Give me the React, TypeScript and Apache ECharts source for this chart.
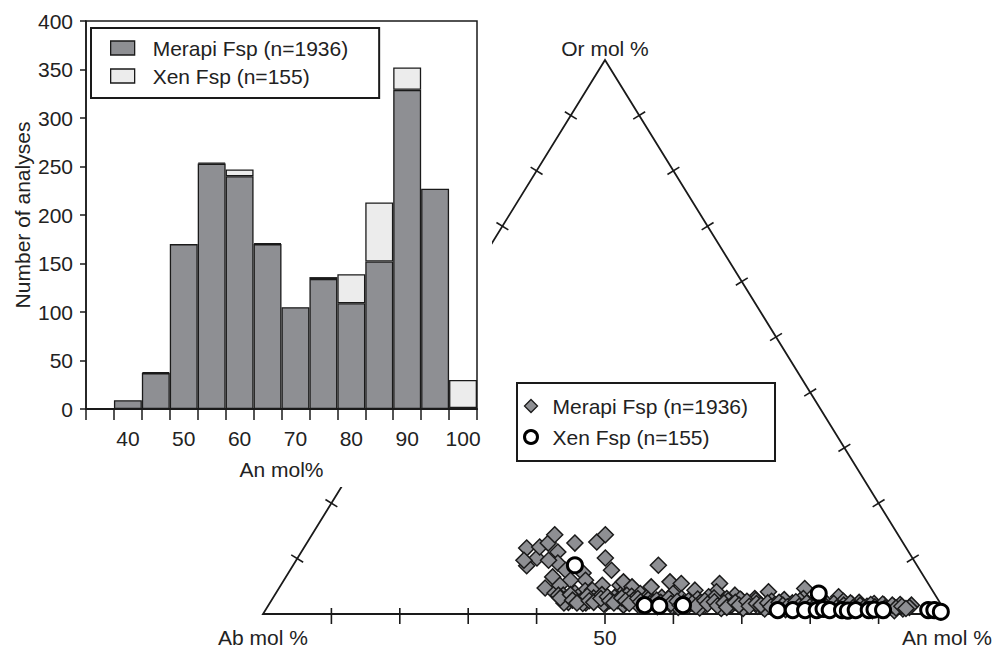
import React, { useEffect, useRef } from 'react';
import * as echarts from 'echarts';

const FONT = "'Liberation Sans', Arial, sans-serif";
const MERAPI = 'Merapi Fsp (n=1936)';
const XEN = 'Xen Fsp (n=155)';

// Histogram (5 mol% bins, An mol%)
const binCategories = ['35', '40', '45', '50', '55', '60', '65', '70', '75', '80', '85', '90', '95', '100'];
const merapiCounts = ['-', 9, 37, 170, 253, 240, 170, 105, 134, 109, 152, 329, 227, 1];
const xenCounts = ['-', '-', 1, '-', 1, 7, 1, '-', 2, 30, 61, 23, '-', 29];
const yTickMax = 400;
const yTickStep = 50;

// Ternary plot: [An mol %, Or mol %] (Ab = 100 - An - Or)
const ternaryTicks = [10, 20, 30, 40, 50, 60, 70, 80, 90];
const baseTickLabels = [50];
const vertexLabels = ['Ab mol %', 'An mol %', 'Or mol %'];

const merapiTernary = [
  [32.6, 11.9], [34.2, 8.7], [35.0, 10.1], [34.4, 12.1], [35.3, 12.8], [35.5, 14.3], [37.5, 11.2], [38.5, 9.2],
  [39.2, 12.8], [42.3, 13.0], [42.9, 14.3], [45.0, 10.1], [47.0, 7.9], [39.0, 6.7], [38.9, 4.7], [43.1, 7.4],
  [44.1, 6.1], [47.0, 5.2], [40.3, 7.9], [41.9, 6.1], [43.7, 3.8], [45.0, 4.2], [40.8, 3.8], [42.4, 3.1],
  [46.0, 4.3], [40.8, 5.2], [36.9, 9.7], [49.6, 5.2], [50.8, 4.3], [33.3, 9.7], [42.2, 3.4],
  [53.4, 8.8], [56.6, 5.8], [58.4, 5.5], [54.3, 4.9], [49.8, 5.8], [51.5, 4.9], [64.0, 5.5], [64.3, 4.0],
  [61.0, 4.3], [58.1, 3.7], [67.3, 3.4], [63.4, 1.9], [67.5, 1.6], [76.9, 4.6], [71.9, 4.0], [70.5, 2.8],
  [68.7, 2.5], [82.6, 3.1], [71.9, 1.6], [94.0, 1.6], [51.5, 3.4], [53.3, 3.7], [63.6, 3.1], [66.4, 2.8],
  [77.6, 2.8],
  [41.5, 3.4], [42.8, 2.6], [43.6, 2.1], [44.5, 3.1], [45.3, 2.4], [46.2, 2.0], [46.9, 2.9], [47.8, 3.5],
  [48.4, 2.2], [49.2, 2.0], [49.9, 3.0], [50.6, 2.4], [51.4, 2.0], [52.3, 3.2], [52.9, 2.5], [53.8, 1.9],
  [54.6, 2.9], [55.2, 1.6], [55.9, 2.2], [56.8, 3.0], [57.5, 1.7], [58.3, 2.5], [59.1, 1.4], [59.8, 2.8],
  [60.5, 2.0], [61.4, 1.5], [62.2, 2.7], [62.9, 2.1], [63.8, 1.5], [64.5, 2.9], [65.3, 1.8], [66.1, 1.3],
  [66.8, 2.4], [67.7, 1.6], [68.4, 2.7], [69.2, 1.3], [70.0, 2.0], [70.8, 2.5], [71.6, 1.4], [72.5, 1.2],
  [73.2, 2.3], [74.0, 1.7], [74.9, 2.6], [75.6, 1.2], [76.4, 2.0], [77.3, 2.4], [78.1, 1.0], [78.8, 1.7],
  [79.7, 2.2], [80.5, 1.2], [81.3, 2.0], [82.0, 0.9], [82.9, 1.5], [83.7, 2.3], [84.5, 1.0], [85.2, 1.8],
  [86.1, 2.1], [86.9, 0.9], [87.6, 1.4], [88.4, 1.9], [89.3, 1.1], [90.0, 1.6], [90.8, 0.8], [91.6, 1.3],
  [92.3, 1.7], [93.1, 0.9], [93.9, 1.2],
  [43.0, 2.0], [45.8, 1.9], [48.9, 1.8], [51.9, 1.6], [54.2, 1.5], [57.0, 1.3], [60.1, 1.2], [63.3, 1.1],
  [66.5, 1.0], [69.7, 1.0], [72.9, 0.9], [76.0, 0.8], [79.2, 0.8], [82.4, 0.7], [85.6, 0.7], [88.8, 0.6],
  [92.0, 0.6],
  [42.0, 2.9], [43.2, 3.5], [44.0, 2.5], [44.9, 2.0], [45.8, 3.2], [46.5, 2.4], [47.3, 2.1], [48.0, 2.8],
  [48.8, 3.1], [49.5, 2.4], [50.3, 2.0], [51.0, 2.9], [51.8, 2.4], [52.6, 1.9], [53.4, 2.8], [54.1, 2.2],
  [55.0, 2.6], [55.6, 1.9], [56.3, 2.5], [57.1, 2.1], [57.9, 2.8], [58.7, 1.9], [59.4, 2.3], [60.2, 1.6],
  [61.0, 2.4], [61.8, 1.9], [62.6, 1.4], [63.4, 2.4], [64.1, 1.8], [64.9, 2.2], [65.7, 1.5], [66.4, 2.0],
  [67.2, 1.2], [68.0, 2.1], [68.8, 1.6], [69.6, 2.3], [70.4, 1.4], [71.2, 1.9], [72.0, 1.6], [72.8, 2.0],
  [73.6, 1.3], [74.4, 2.1], [75.2, 1.6], [76.0, 1.3], [76.8, 2.2], [77.7, 1.4], [78.5, 2.0], [79.3, 1.3],
  [80.1, 1.7], [80.9, 2.3], [81.7, 1.3], [82.5, 1.9], [83.3, 1.1], [84.1, 1.6], [84.9, 2.0], [85.7, 1.2],
  [86.5, 1.6], [87.3, 1.1], [88.0, 1.7], [88.8, 1.3], [89.7, 1.8], [90.4, 1.1], [91.2, 1.6], [92.0, 1.1],
  [92.7, 1.4], [93.5, 1.0],
];

const xenTernary = [
  [41.2, 8.8], [55.0, 1.6], [57.2, 1.5], [60.6, 1.6], [79.4, 3.7], [74.9, 0.7], [77.1, 0.7], [78.9, 0.7],
  [80.6, 0.7], [81.5, 0.9], [82.5, 0.7], [84.3, 0.7], [85.2, 0.6], [86.3, 0.7], [88.2, 0.7], [89.0, 0.8],
  [90.3, 0.7], [96.9, 0.7], [97.8, 0.7], [98.9, 0.4],
];

const toXY = (p: number[]) => [p[0] + p[1] / 2, p[1]];

const INK = '#1a1a1a';
const MERAPI_FILL = '#8e8f93';
const XEN_FILL = '#ececec';

export default function App() {
  const ref = useRef<HTMLDivElement>(null);

  useEffect(() => {
    if (!ref.current) return;
    const chart = echarts.init(ref.current, undefined, { renderer: 'svg' });

    const renderTernary = (params: any, api: any) => {
      const f = api.value(0) / 100;
      const A = api.coord([0, 0]);
      const B = api.coord([100, 0]);
      const C = api.coord([50, 100]);
      const lw = 1.6;
      const seg = (x1: number, y1: number, x2: number, y2: number) => ({
        type: 'line',
        shape: { x1, y1, x2, y2 },
        style: { stroke: INK, lineWidth: lw },
      });
      const perpTick = (P: number[], Q: number[]) => {
        const px = P[0] + f * (Q[0] - P[0]);
        const py = P[1] + f * (Q[1] - P[1]);
        const dx = Q[0] - P[0];
        const dy = Q[1] - P[1];
        const len = Math.hypot(dx, dy);
        const nx = (-dy / len) * 7;
        const ny = (dx / len) * 7;
        return seg(px - nx, py - ny, px + nx, py + ny);
      };
      const children: any[] = [];
      const bx = A[0] + f * (B[0] - A[0]);
      const by = A[1];
      children.push(seg(bx, by - 6, bx, by + 10));
      children.push(perpTick(A, C));
      children.push(perpTick(B, C));
      const txt = (x: number, y: number, text: string) => ({
        type: 'text',
        x,
        y,
        style: { text, fill: '#222', fontSize: 21, fontFamily: FONT, align: 'center', verticalAlign: 'middle' },
      });
      if (baseTickLabels.indexOf(api.value(0)) >= 0) {
        children.push(txt(bx, by + 23, String(api.value(0))));
      }
      if (params.dataIndex === 0) {
        children.push({
          type: 'polygon',
          shape: { points: [A, B, C] },
          style: { fill: 'none', stroke: INK, lineWidth: 1.8 },
        });
        children.push(txt(A[0], A[1] + 23, vertexLabels[0]));
        children.push(txt(B[0], B[1] + 23, vertexLabels[1]));
        children.push(txt(C[0], C[1] - 12, vertexLabels[2]));
      }
      return { type: 'group', children };
    };

    const option: any = {
      animation: false,
      backgroundColor: '#fff',
      textStyle: { fontFamily: FONT },
      grid: [
        {
          left: 86, top: 21, width: 391, height: 388,
          show: true, borderColor: INK, borderWidth: 1.5, backgroundColor: 'transparent',
          z: 4, outerBoundsMode: 'none',
        },
        {
          left: 263, top: 60, width: 684, height: 554,
          show: false, z: 1, outerBoundsMode: 'none',
        },
      ],
      xAxis: [
        {
          gridIndex: 0,
          type: 'category',
          data: binCategories,
          z: 4,
          axisLine: { show: true, lineStyle: { color: INK, width: 2 } },
          axisTick: { show: true, interval: 0, length: 11, lineStyle: { color: INK, width: 1.5 } },
          axisLabel: {
            interval: (_i: number, v: string) => Number(v) % 10 === 0,
            margin: 19,
            fontSize: 21,
            color: '#222',
            fontFamily: FONT,
          },
          name: 'An mol%',
          nameLocation: 'middle',
          nameGap: 50,
          nameTextStyle: { fontSize: 21, color: '#222', fontFamily: FONT },
          splitLine: { show: false },
        },
        { gridIndex: 1, type: 'value', min: 0, max: 100, show: false },
      ],
      yAxis: [
        {
          gridIndex: 0,
          type: 'value',
          min: 0,
          max: yTickMax,
          interval: yTickStep,
          z: 4,
          axisLine: { show: true, lineStyle: { color: INK, width: 1.5 } },
          axisTick: { show: true, length: 6, lineStyle: { color: INK, width: 1.5 } },
          axisLabel: { margin: 13, fontSize: 21, color: '#222', fontFamily: FONT },
          splitLine: { show: false },
          name: 'Number of analyses',
          nameLocation: 'middle',
          nameGap: 53,
          nameTextStyle: { fontSize: 21, color: '#222', fontFamily: FONT },
        },
        { gridIndex: 1, type: 'value', min: 0, max: 100, show: false },
      ],
      legend: [
        {
          data: [
            { name: MERAPI, icon: 'rect', itemStyle: { color: MERAPI_FILL, borderColor: INK, borderWidth: 1.3 } },
            { name: XEN, icon: 'rect', itemStyle: { color: XEN_FILL, borderColor: INK, borderWidth: 1.3 } },
          ],
          orient: 'vertical',
          left: 91,
          top: 28,
          itemWidth: 24,
          itemHeight: 14,
          itemGap: 4,
          padding: [8, 31, 10, 19],
          borderColor: INK,
          borderWidth: 2,
          backgroundColor: '#fff',
          selectedMode: false,
          textStyle: { fontSize: 21, lineHeight: 24, color: '#222', fontFamily: FONT, padding: [0, 0, 0, 13] },
          z: 6,
        },
        {
          data: [
            { name: MERAPI, icon: 'diamond', itemStyle: { color: MERAPI_FILL, borderColor: INK, borderWidth: 1.3 } },
            { name: XEN, icon: 'circle', itemStyle: { color: '#fff', borderColor: '#000', borderWidth: 3 } },
          ],
          orient: 'vertical',
          left: 517,
          top: 383,
          itemWidth: 13,
          itemHeight: 13,
          itemGap: 7,
          padding: [11, 27, 12, 6],
          borderColor: INK,
          borderWidth: 2,
          backgroundColor: '#fff',
          selectedMode: false,
          textStyle: { fontSize: 21, lineHeight: 24, color: '#222', fontFamily: FONT, padding: [0, 0, 0, 10] },
          z: 6,
        },
      ],
      graphic: [
        {
          type: 'rect',
          shape: { x: 0, y: 0, width: 492, height: 487 },
          style: { fill: '#fff' },
          z: 3,
          silent: true,
        },
      ],
      series: [
        {
          type: 'bar',
          name: MERAPI,
          xAxisIndex: 0,
          yAxisIndex: 0,
          stack: 'hist',
          data: merapiCounts,
          barCategoryGap: '0%',
          itemStyle: { color: MERAPI_FILL, borderColor: INK, borderWidth: 1.3 },
          z: 5,
        },
        {
          type: 'bar',
          name: XEN,
          xAxisIndex: 0,
          yAxisIndex: 0,
          stack: 'hist',
          data: xenCounts,
          barCategoryGap: '0%',
          itemStyle: { color: XEN_FILL, borderColor: INK, borderWidth: 1.3 },
          z: 5,
        },
        {
          type: 'custom',
          xAxisIndex: 1,
          yAxisIndex: 1,
          data: ternaryTicks.map((t) => [t, 0]),
          encode: { x: 0, y: 1 },
          renderItem: renderTernary,
          clip: false,
          silent: true,
          z: 1,
        },
        {
          type: 'scatter',
          name: MERAPI,
          xAxisIndex: 1,
          yAxisIndex: 1,
          symbol: 'diamond',
          symbolSize: 16,
          data: merapiTernary.map(toXY),
          itemStyle: { color: MERAPI_FILL, borderColor: INK, borderWidth: 1.5, opacity: 1 },
          clip: false,
          z: 2,
        },
        {
          type: 'scatter',
          name: XEN,
          xAxisIndex: 1,
          yAxisIndex: 1,
          symbol: 'circle',
          symbolSize: 15,
          data: xenTernary.map(toXY),
          itemStyle: { color: '#fff', borderColor: '#000', borderWidth: 3, opacity: 1 },
          clip: false,
          z: 2,
        },
      ],
    };

    chart.setOption(option);
    return () => {
      chart.dispose();
    };
  }, []);

  return (
    <div
      ref={ref}
      style={{ position: 'fixed', left: 0, top: 0, width: 995, height: 648, background: '#fff' }}
    />
  );
}
